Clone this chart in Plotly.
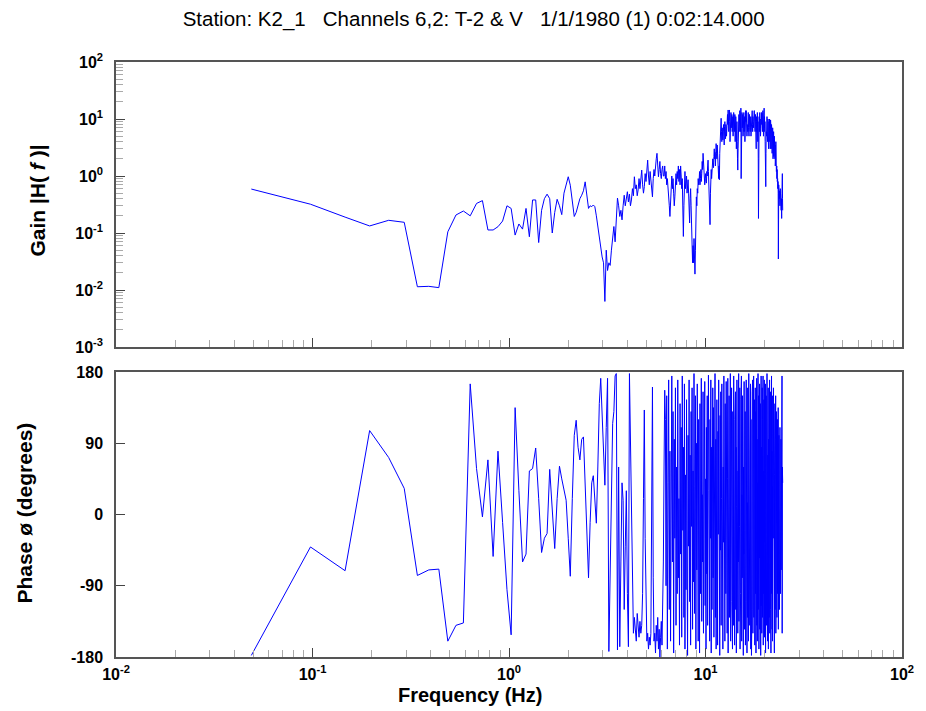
import plotly.graph_objects as go

# Frequency resolution of the spectrum (Hz) and values
df = 0.048828125

gain = [
    0.59,0.32,0.19,0.133,0.167,0.154,0.0114,0.0116,0.011,0.105,
    0.207,0.243,0.20,0.33,0.37,0.113,0.113,0.129,0.162,0.30,
    0.27,0.092,0.144,0.117,0.27,0.086,0.38,0.38,0.068,0.25,
    0.40,0.48,0.40,0.10,0.23,0.39,0.30,0.21,0.50,0.75,
    0.97,0.69,0.35,0.195,0.23,0.30,0.40,0.46,0.55,0.79,
    0.45,0.27,0.30,0.29,0.31,0.29,0.20,0.13,0.08,0.05,
    0.038,0.03,0.0063,0.05,0.022,0.03,0.027,0.05,0.087,0.13,
    0.07,0.2,0.41,0.3,0.195,0.25,0.17,0.3,0.46,0.3,
    0.45,0.53,0.35,0.48,0.3,0.38,0.6,0.45,0.97,0.6,
    0.7,0.45,0.57,0.9,0.6,1.0,1.27,0.7,0.5,0.65,
    1.1,0.8,1.4,1.9,1.0,0.7,1.2,0.8,0.6,0.43,
    0.9,1.3,1.0,1.6,2.0,2.5,1.5,0.97,1.3,1.8,
    1.1,0.9,1.3,1.5,1.0,1.0,1.5,0.9,1.2,0.7,
    0.9,0.5,0.35,0.3,0.195,0.4,0.7,1.0,0.6,0.9,
    0.5,0.3,0.43,0.8,1.1,0.7,1.2,0.9,1.5,0.8,
    1.3,0.7,1.5,1.0,0.6,0.9,0.3,0.087,0.3,0.8,
    1.2,0.6,0.9,1.0,0.5,0.7,0.86,0.5,0.3,0.15,
    0.4,0.6,0.3,0.1,0.05,0.03,0.06,0.03,0.08,0.035,
    0.019,0.05,0.15,0.43,0.3,0.6,0.5,0.9,0.7,0.8,
    1.2,0.7,0.9,1.3,0.8,1.1,1.8,1.3,2.5,1.5,
    1.0,1.2,0.7,0.9,1.1,0.8,0.75,1.2,1.0,1.5,
    1.9,1.2,0.8,0.5,0.3,0.14,0.5,1.0,1.3,0.9,
    1.7,1.2,2.0,1.7,1.4,2.2,3.0,2.0,2.6,1.5,
    3.0,3.7,2.5,2.0,3.5,1.8,2.6,1.2,0.9,1.5,
    0.86,2.5,4.0,6.0,8.0,10.3,6,4,7,5,
    4.3,6,8,5,3.5,7.3,9,6,4.5,8,
    7.3,5,10,7,12,8,14.4,10,6,11,
    14.4,9,4,8,11,13,7,10,12,6,
    9,11,5,8,13,9,6,10,12,4,
    7,11,8,3,6,9,4,2,1.27,3,
    7,10,12,6,9,14,8,11,6,15.5,
    0.9,5,10,13,7,9,12,5,10,8,
    13,6,9,11,4,8,12,14,9,14,
    7,10,5,8,12,6,9,13,7,10,
    5,9,12,7,10,6,8.4,11,5,8.4,
    12,7,10,14,8,6,11,9,13,7,
    10,14,14,8,11,6,9,12,5,8,
    3,9,11,6,10,13,7,4,9,2,
    0.18,3,8,11,6,9,13,7,10,5,
    8,12,6,10,13,8,12.6,9,6,11,
    14,8,10,5,12,9,15.5,7,11,6,
    9,4,2,1.2,0.65,2.5,6,9,5,8,
    11,6,9,4,7,10,5,8,3,6,
    9,4,7,10,5,8,3,6,9.6,5,
    7,3,5,8,4,6,2.5,5,3,7,
    4,2,5,3,6,2.2,4,2.5,5,3,
    4,2,3.5,1.5,3,2,4,1.5,2.5,1.2,
    2,1.5,0.9,1.3,0.8,1.1,0.9,0.6,0.8,0.5,
    0.035,0.4,0.7,0.5,0.6,0.4,0.55,0.35,0.5,0.3,
    0.45,0.6,0.35,0.5,0.3,0.45,0.25,0.4,0.3,0.18,
    0.35,0.5,0.8,1.1,0.4,0.25,
]

phase = [
    -178,-41,-71,106,72,33,-77,-70,-69,-160,
    -140,-137,165,58,-3,69,-53,80,-10,-95,
    -152,135,30,-60,-50,55,58,84,20,-48,
    -30,-24,57,0,-43,20,61,45,30,18,
    -30,-78,20,100,119,85,69,95,98,30,
    -40,-80,-10,40,49,20,-11,60,140,172,
    120,60,37,110,172,-173,-60,60,115,130,
    175,178,-171,60,-167,-60,40,18,-120,-40,
    30,-100,-167,178,90,2,-80,-150,-130,-145,
    -160,-125,-140,-155,-135,-150,-140,-100,20,132,
    -30,-120,-160,-150,-170,-155,-165,-150,-40,161,
    -80,-160,-150,-175,-140,-160,-130,-170,-145,-180,
    -155,-135,-165,-120,-60,60,157,120,-90,150,
    -170,40,170,-120,80,-160,10,175,-60,130,
    -175,95,-30,160,-140,60,-100,170,-80,20,
    -165,140,-50,110,-155,175,-20,85,-130,165,
    -170,50,-95,145,-60,-178,100,-40,170,-110,
    75,-165,130,-15,160,-145,55,-85,178,-125,
    35,150,-170,90,-70,165,-40,-160,120,10,
    -175,140,-100,60,172,-135,25,-60,155,-150,
    80,-20,168,-115,45,-170,110,-75,150,-140,
    30,176,-95,65,-160,120,-30,170,-175,85,
    -120,15,160,-80,135,-155,50,-10,178,-130,
    95,-170,40,145,-60,-165,105,-25,170,-110,
    70,-178,125,-45,155,-140,20,165,-90,110,
    -170,60,-35,175,-125,80,-160,140,0,-100,
    168,-60,115,-150,45,172,-175,90,-20,150,
    -130,30,-80,178,-160,100,-45,160,-110,65,
    -170,130,-5,-140,175,-70,40,-165,120,-30,
    155,-120,85,-175,10,170,-90,135,-150,55,
    -60,178,-135,95,-15,160,-170,70,-100,145,
    -40,175,-160,25,-80,150,-125,110,-178,60,
    -50,168,-145,90,-20,130,-165,45,-110,170,
    -70,140,-175,15,-130,160,-55,100,-160,178,
    -95,35,150,-140,75,-30,165,-170,120,-65,
    -178,85,-120,155,-10,170,-150,50,-85,175,
    -130,110,-45,145,-165,20,160,-100,130,-175,
    65,-35,172,-140,95,-160,40,-75,178,-120,
    150,-20,-170,105,-55,165,-145,70,-90,140,
    -178,30,175,-115,85,-150,-5,160,-130,120,
    -60,175,-165,55,-100,145,-35,170,-155,90,
    -120,15,165,-175,110,-70,150,-140,40,-25,
    178,-110,125,-160,75,-50,160,-170,95,-85,
    140,-130,20,170,-150,100,-60,155,-120,60,
    -175,130,-30,175,-100,80,-145,35,-160,150,
    -90,110,-30,160,-140,70,-110,125,-175,50,
    -60,140,-120,95,-20,150,-150,60,-95,130,
    -40,110,-130,80,-10,120,-100,90,-50,135,
    -145,60,-20,100,-80,75,-120,40,-60,110,
    -30,85,-100,60,0,95,-70,50,-20,80,
    -40,175,-150,60,20,40,
]

n = min(len(gain), len(phase))
freq = [(k + 1) * df for k in range(n)]

gain_exps = [-3, -2, -1, 0, 1, 2]
freq_exps = [-2, -1, 0, 1, 2]
phase_ticks = [-180, -90, 0, 90, 180]
phase_labels = ["-180", "-90", "0", "90", "180"]


def decade_ticks(exps):
    vals = [10.0 ** e for e in exps]
    text = ["10<sup>%d</sup>" % e for e in exps]
    return vals, text


def minor_vals(exps):
    out = []
    for e in exps[:-1]:
        for m in range(2, 10):
            out.append(m * 10.0 ** e)
    return out


gv, gt = decade_ticks(gain_exps)
fv, ft = decade_ticks(freq_exps)

FONT = "Liberation Sans, Arial, sans-serif"
LINE = "#555555"

fig = go.Figure()
fig.add_trace(go.Scatter(x=freq, y=gain[:n], mode="lines",
                         line=dict(color="#0000ff", width=1),
                         xaxis="x", yaxis="y", showlegend=False))
fig.add_trace(go.Scatter(x=freq, y=phase[:n], mode="lines",
                         line=dict(color="#0000ff", width=1),
                         xaxis="x2", yaxis="y2", showlegend=False))

tickfont = dict(family=FONT, size=16, color="black", weight="bold")

xcommon = dict(type="log", range=[-2, 2], showgrid=False, zeroline=False,
               showline=True, linecolor=LINE, linewidth=1.5, mirror=True,
               ticks="inside", ticklen=9, tickcolor="#444", tickwidth=1,
               tickmode="array", tickvals=fv, ticktext=ft,
               ticklabelstandoff=2,
               minor=dict(ticks="inside", ticklen=7, tickcolor="#aaaaaa",
                          tickwidth=1, showgrid=False,
                          tickmode="array", tickvals=minor_vals(freq_exps)),
               tickfont=tickfont)

ycommon = dict(showgrid=False, zeroline=False, showline=True, linecolor=LINE,
               linewidth=1.5, mirror=True, ticks="inside", ticklen=9,
               tickcolor="#444", ticklabelstandoff=8, tickfont=tickfont)

fig.update_layout(
    width=926, height=711,
    margin=dict(l=116, r=19, t=62, b=54),
    paper_bgcolor="white", plot_bgcolor="white",
    font=dict(family=FONT, color="black"),
    title=dict(text="Station: K2_1   Channels 6,2: T-2 &amp; V   1/1/1980 (1) 0:02:14.000",
               x=0.455, xref="paper", y=0.974, yref="container",
               xanchor="center", yanchor="middle",
               font=dict(family=FONT, size=20.5, color="black")),
    xaxis=dict(xcommon, domain=[0, 1], anchor="y", showticklabels=False),
    xaxis2=dict(xcommon, domain=[0, 1], anchor="y2", matches="x"),
    yaxis=dict(ycommon, type="log", range=[-3, 2], domain=[0.521, 1], anchor="x",
               tickmode="array", tickvals=gv, ticktext=gt,
               minor=dict(ticks="inside", ticklen=7, tickcolor="#aaaaaa",
                          tickwidth=1, showgrid=False,
                          tickmode="array", tickvals=minor_vals(gain_exps))),
    yaxis2=dict(ycommon, range=[-180, 180], domain=[0, 0.479], anchor="x2",
                tickmode="array", tickvals=phase_ticks, ticktext=phase_labels),
    annotations=[
        dict(text="Gain |H( <i>f</i> )|", xref="paper", yref="paper",
             x=-0.0999, y=0.768, textangle=-90, showarrow=False,
             xanchor="center", yanchor="middle",
             font=dict(family=FONT, size=21, color="black", weight="bold")),
        dict(text="Phase ø (degrees)", xref="paper", yref="paper",
             x=-0.1176, y=0.242, textangle=-90, showarrow=False,
             xanchor="center", yanchor="middle",
             font=dict(family=FONT, size=21, color="black", weight="bold")),
        dict(text="Frequency (Hz)", xref="paper", yref="paper",
             x=0.451, y=-0.0639, showarrow=False,
             xanchor="center", yanchor="middle",
             font=dict(family=FONT, size=20, color="black", weight="bold")),
    ],
)

fig.write_html("out.html")
